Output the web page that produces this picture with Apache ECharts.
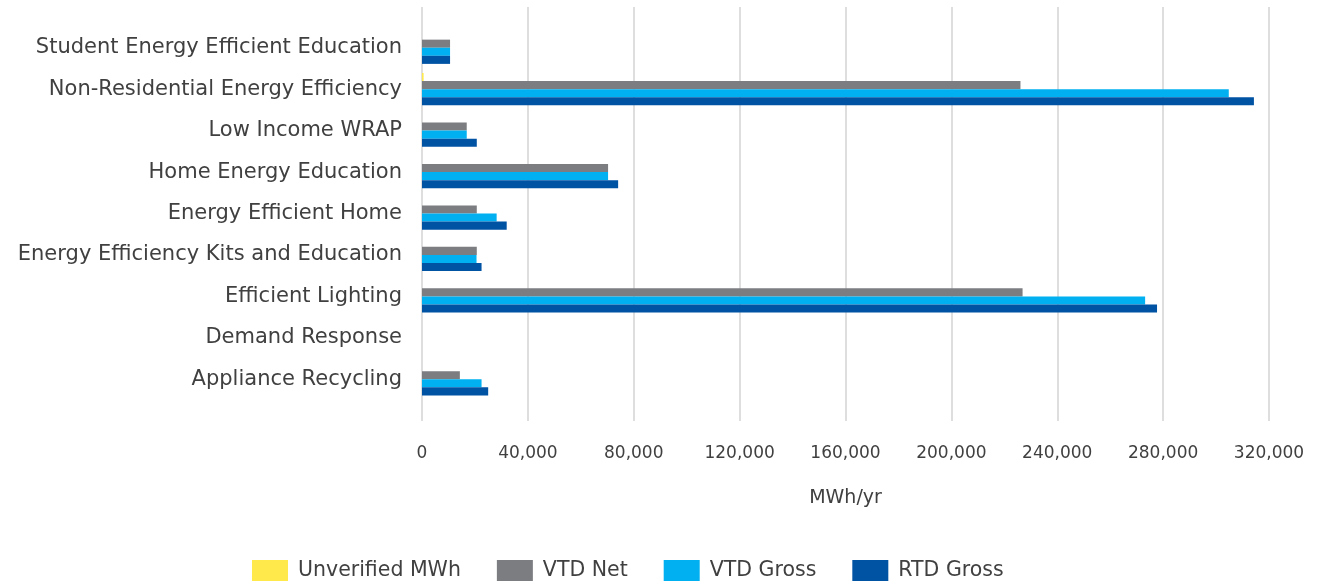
<!DOCTYPE html>
<html>
<head>
<meta charset="utf-8">
<style>
  html, body { margin: 0; padding: 0; background: #fff; }
  #chart { width: 1317px; height: 584px; }
</style>
<script src="https://cdn.jsdelivr.net/npm/echarts@6/dist/echarts.min.js"></script>
</head>
<body>
<div id="chart"></div>
<script>
// categories listed bottom to top
const categories = [
  'Appliance Recycling',
  'Demand Response',
  'Efficient Lighting',
  'Energy Efficiency Kits and Education',
  'Energy Efficient Home',
  'Home Energy Education',
  'Low Income WRAP',
  'Non-Residential Energy Efficiency',
  'Student Energy Efficient Education'
]
const unverified = [0, 0, 0, 0, 0, 0, 0, 600, 0]
const vtdNet = [14300, 0, 226900, 20700, 20700, 70300, 16900, 226100, 10600]
const vtdGross = [22500, 0, 273200, 20600, 28200, 70300, 16900, 304800, 10600]
const rtdGross = [25000, 0, 277700, 22500, 32000, 74100, 20700, 314300, 10600]
const xMax = 320000
const xStep = 40000

const font = 'DejaVu Sans, sans-serif'
const textColor = '#404040'

const chart = echarts.init(document.getElementById('chart'))

function bar (name, data, color) {
  return {
    name: name,
    type: 'bar',
    xAxisIndex: 0,
    yAxisIndex: 0,
    data: data,
    barGap: 0,
    barCategoryGap: '22%',
    itemStyle: { color: color },
    animation: false
  }
}

const option = {
  textStyle: { fontFamily: font },
  // grid 0 holds the bars, grid 1 only draws the gridlines and the value axis
  grid: [
    { left: 422, right: 48, top: 27, bottom: 184 },
    { left: 422, right: 48, top: 7, bottom: 163 }
  ],
  legend: {
    data: ['Unverified MWh', 'VTD Net', 'VTD Gross', 'RTD Gross'],
    left: 252,
    top: 560,
    padding: 0,
    itemWidth: 36,
    itemHeight: 21,
    itemGap: 36,
    icon: 'rect',
    textStyle: { fontSize: 20.5, color: textColor, fontFamily: font, padding: [0, 0, 0, 5] }
  },
  xAxis: [
    {
      type: 'value',
      gridIndex: 0,
      min: 0,
      max: xMax,
      interval: xStep,
      show: false
    },
    {
      type: 'value',
      gridIndex: 1,
      min: 0,
      max: xMax,
      interval: xStep,
      name: 'MWh/yr',
      nameLocation: 'middle',
      nameGap: 68,
      nameTextStyle: { fontSize: 19, color: textColor, fontFamily: font },
      axisLine: { show: false },
      axisTick: { show: false },
      axisLabel: {
        margin: 24,
        fontSize: 17,
        color: textColor,
        fontFamily: font,
        formatter: v => v.toLocaleString('en-US')
      },
      splitLine: { show: true, lineStyle: { color: '#dedede', width: 2 } }
    }
  ],
  yAxis: [
    {
      type: 'category',
      gridIndex: 0,
      data: categories,
      axisLine: { show: false },
      axisTick: { show: false },
      axisLabel: { margin: 20, fontSize: 21, color: textColor, fontFamily: font },
      splitLine: { show: false }
    },
    {
      type: 'value',
      gridIndex: 1,
      min: 0,
      max: 1,
      show: false
    }
  ],
  series: [
    bar('Unverified MWh', unverified, '#ffe94b'),
    bar('VTD Net', vtdNet, '#7b7d80'),
    bar('VTD Gross', vtdGross, '#00b0f0'),
    bar('RTD Gross', rtdGross, '#0052a3')
  ]
}

chart.setOption(option)
</script>
</body>
</html>
